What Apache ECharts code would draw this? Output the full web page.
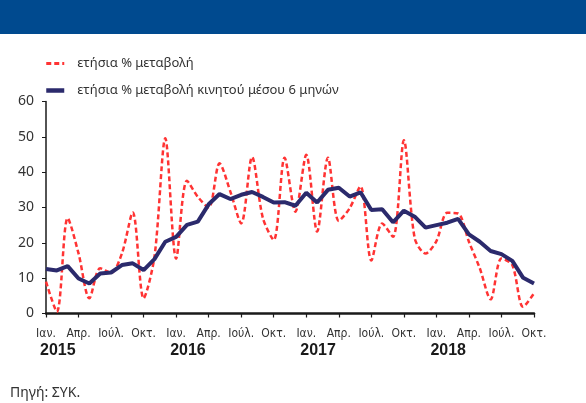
<!DOCTYPE html>
<html>
<head>
<meta charset="utf-8">
<script src="https://cdn.jsdelivr.net/npm/echarts@6/dist/echarts.min.js"></script>
<style>
html,body{margin:0;padding:0;background:#fff;}
#chart{width:586px;height:403px;}
</style>
</head>
<body>
<div id="chart"></div>
<script>
const years = ['2015', '2016', '2017', '2018'];
const monthNames = ['Ιαν.', 'Φεβ.', 'Μαρ.', 'Απρ.', 'Μάι.', 'Ιούν.', 'Ιούλ.', 'Αύγ.', 'Σεπ.', 'Οκτ.', 'Νοέ.', 'Δεκ.'];
const lastMonthIndex2018 = 9; // Οκτ. 2018
const seriesNames = ['ετήσια % μεταβολή', 'ετήσια % μεταβολή κινητού μέσου 6 μηνών'];
const annualChange = [9, 0.5, 27, 17, 4.3, 12.8, 11.5, 17, 28.6, 4.3, 16, 49.6,
  15.5, 37.6, 33, 30, 42.5, 34.5, 25.5, 44.3, 27, 20.8, 44.1, 28.8,
  44.9, 23.2, 44.1, 26.2, 29.8, 36, 15, 25.5, 21.7, 49, 21.3, 17,
  20.5, 28.5, 28.3, 20.3, 12.8, 4, 15.6, 13.7, 1.9, 5.7];
const movingAvg6 = [12.6, 12.2, 13.4, 9.9, 8.5, 11.3, 11.6, 13.7, 14.2, 12.3, 15.4, 20.3,
  21.7, 25.1, 26, 30.9, 33.8, 32.4, 33.6, 34.4, 33, 31.4, 31.5, 30.5,
  34.2, 31.4, 35, 35.6, 33.1, 34.3, 29.3, 29.5, 25.8, 29.1, 27.4, 24.3,
  25, 25.7, 26.8, 22.4, 20.3, 17.7, 16.8, 14.9, 10.1, 8.5];
const yTicks = [0, 10, 20, 30, 40, 50, 60];
const sourceNote = 'Πηγή: ΣΥΚ.';

const categories = [];
const catMonth = [];
const catYear = [];
years.forEach((y, yi) => {
  const n = (yi === years.length - 1) ? lastMonthIndex2018 + 1 : 12;
  for (let m = 0; m < n; m++) {
    categories.push(monthNames[m] + ' ' + y);
    catMonth.push(m);
    catYear.push(y);
  }
});

const chart = echarts.init(document.getElementById('chart'), null, {renderer: 'canvas'});
const narrow = "'Liberation Sans Narrow', 'DejaVu Sans Condensed', 'Noto Sans', sans-serif";
const option = {
  animation: false,
  backgroundColor: '#ffffff',
  graphic: [
    {type: 'rect', left: 0, top: 0, shape: {width: 586, height: 34}, style: {fill: '#004A8F'}, silent: true}
  ],
  title: {
    text: sourceNote,
    left: 10,
    top: 386,
    padding: 0,
    textStyle: {fontFamily: "'Noto Sans', sans-serif", fontSize: 14, fontWeight: 'normal', color: '#333'}
  },
  legend: {
    orient: 'vertical',
    left: 44,
    top: 57,
    padding: 0,
    itemWidth: 18,
    itemHeight: 10,
    itemGap: 14,
    itemStyle: {opacity: 0},
    textStyle: {fontFamily: "'Noto Sans', sans-serif", fontSize: 13, color: '#333', padding: [0, 0, 0, 8]},
    data: [
      {name: seriesNames[0], lineStyle: {width: 3}},
      {name: seriesNames[1], lineStyle: {width: 4.5}}
    ]
  },
  grid: {left: 46, right: 52, top: 101.5, bottom: 89.5, containLabel: false},
  xAxis: [
    {
      type: 'category',
      data: categories,
      boundaryGap: false,
      axisLine: {lineStyle: {color: '#1a1a1a', width: 2.5}},
      axisTick: {interval: 2, length: 4, lineStyle: {color: '#1a1a1a', width: 1.2}},
      axisLabel: {
        interval: 2,
        margin: 14,
        fontFamily: narrow,
        fontSize: 12,
        color: '#333',
        formatter: (v, i) => monthNames[catMonth[i]]
      },
      splitLine: {show: false}
    },
    {
      type: 'category',
      data: categories,
      boundaryGap: false,
      position: 'bottom',
      axisLine: {show: false},
      axisTick: {show: false},
      axisLabel: {
        interval: (i) => catMonth[i] === 0,
        margin: 29,
        align: 'left',
        padding: [0, 0, 0, -6],
        fontFamily: "'Liberation Sans', Arial, sans-serif",
        fontWeight: 'bold',
        fontSize: 16,
        color: '#1a1a1a',
        formatter: (v, i) => catYear[i]
      },
      splitLine: {show: false}
    }
  ],
  yAxis: {
    type: 'value',
    min: yTicks[0],
    max: yTicks[yTicks.length - 1],
    interval: 10,
    axisLine: {show: true, lineStyle: {color: '#1a1a1a', width: 1.5}},
    axisTick: {show: true, length: 4, lineStyle: {color: '#1a1a1a', width: 1}},
    axisLabel: {margin: 12, fontFamily: "'Noto Sans', sans-serif", fontSize: 14, color: '#333'},
    splitLine: {show: false}
  },
  series: [
    {
      name: seriesNames[0],
      type: 'line',
      data: annualChange,
      symbol: 'none',
      smooth: 0.3,
      z: 2,
      lineStyle: {color: '#FF3333', width: 2.5, type: [5, 3]},
      itemStyle: {color: '#FF3333'}
    },
    {
      name: seriesNames[1],
      type: 'line',
      data: movingAvg6,
      symbol: 'none',
      smooth: false,
      z: 3,
      lineStyle: {color: '#2B2A6C', width: 4},
      itemStyle: {color: '#2B2A6C'}
    }
  ]
};
chart.setOption(option);
</script>
</body>
</html>
